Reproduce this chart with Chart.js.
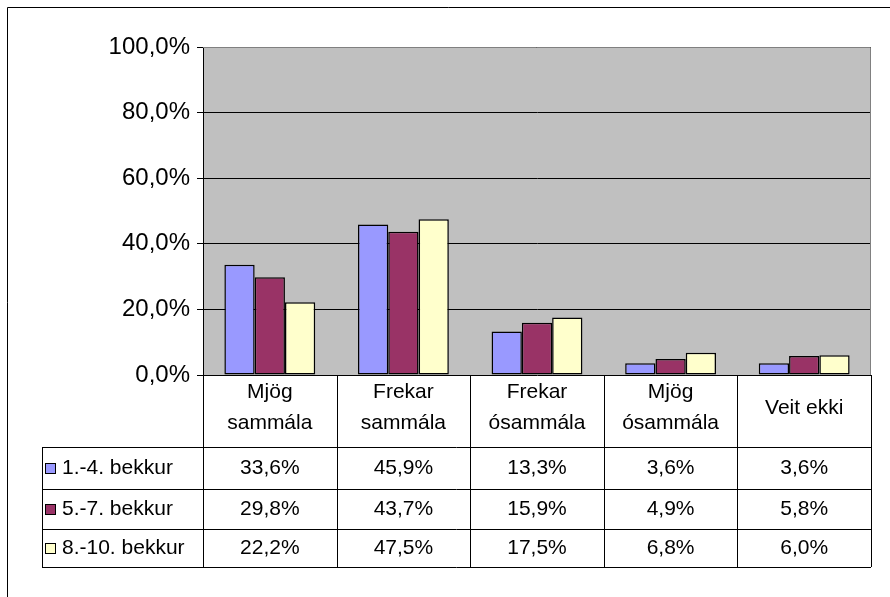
<!DOCTYPE html>
<html>
<head>
<meta charset="utf-8">
<script src="https://cdn.jsdelivr.net/npm/chart.js@4.4.0/dist/chart.umd.min.js"></script>
<style>
  body { margin: 0; background: #fff; }
  #wrap { width: 890px; height: 597px; }
</style>
</head>
<body>
<div id="wrap"><canvas id="chart" width="890" height="597"></canvas></div>
<script>
// data
const categories = [['Mjög', 'sammála'], ['Frekar', 'sammála'], ['Frekar', 'ósammála'], ['Mjög', 'ósammála'], ['Veit ekki']];
const seriesNames = ['1.-4. bekkur', '5.-7. bekkur', '8.-10. bekkur'];
const grade1to4 = [33.6, 45.9, 13.3, 3.6, 3.6];
const grade5to7 = [29.8, 43.7, 15.9, 4.9, 5.8];
const grade8to10 = [22.2, 47.5, 17.5, 6.8, 6.0];
const seriesColors = ['#9999FF', '#993366', '#FFFFCC'];

const FONT = '"Liberation Sans", Arial, sans-serif';
const fmt = v => v.toFixed(1).replace('.', ',') + '%';

// grey plot area + outer frame
const plotBg = {
  id: 'plotBg',
  beforeDraw(chart) {
    const { ctx, chartArea: a } = chart;
    ctx.save();
    ctx.fillStyle = '#C0C0C0';
    ctx.fillRect(a.left, a.top, a.right - a.left, a.bottom - a.top);
    // outer frame (only top and left visible)
    ctx.strokeStyle = '#000';
    ctx.lineWidth = 1;
    ctx.beginPath();
    ctx.moveTo(7.5, 597);
    ctx.lineTo(7.5, 7.5);
    ctx.lineTo(890, 7.5);
    ctx.stroke();
    ctx.restore();
  },
  afterDatasetsDraw(chart) {
    const { ctx, chartArea: a } = chart;
    ctx.save();
    ctx.strokeStyle = '#808080';
    ctx.lineWidth = 1;
    ctx.beginPath();
    ctx.moveTo(a.left, a.top + 0.5);
    ctx.lineTo(a.right - 0.5, a.top + 0.5);
    ctx.lineTo(a.right - 0.5, a.bottom);
    ctx.stroke();
    ctx.restore();
  }
};

// data table under the plot
const dataTable = {
  id: 'dataTable',
  afterDraw(chart) {
    const { ctx, chartArea: a } = chart;
    const n = chart.data.labels.length;
    const w = (a.right - a.left) / n;
    const tableLeft = 42;
    const rows = [a.bottom, 447, 489, 529, 567];
    ctx.save();
    ctx.strokeStyle = '#000';
    ctx.lineWidth = 1;
    ctx.beginPath();
    // header verticals
    for (let i = 0; i <= n; i++) {
      const x = Math.round(a.left + i * w) + 0.5;
      ctx.moveTo(x, a.bottom);
      ctx.lineTo(x, rows[4]);
    }
    ctx.moveTo(tableLeft + 0.5, rows[1]);
    ctx.lineTo(tableLeft + 0.5, rows[4]);
    for (let r = 1; r < rows.length; r++) {
      ctx.moveTo(tableLeft, rows[r] + 0.5);
      ctx.lineTo(a.right, rows[r] + 0.5);
    }
    ctx.stroke();

    ctx.fillStyle = '#000';
    ctx.font = '21px ' + FONT;
    ctx.textAlign = 'center';
    ctx.textBaseline = 'middle';
    chart.data.labels.forEach((lab, i) => {
      const cx = a.left + (i + 0.5) * w;
      const lines = Array.isArray(lab) ? lab : [lab];
      const mid = (rows[0] + rows[1]) / 2;
      const lh = 31;
      lines.forEach((t, k) => {
        ctx.fillText(t, cx, mid + (k - (lines.length - 1) / 2) * lh - 3);
      });
    });

    chart.data.datasets.forEach((ds, r) => {
      const cy = (rows[r + 1] + rows[r + 2]) / 2;
      // legend key
      ctx.fillStyle = ds.backgroundColor;
      ctx.fillRect(45, cy - 5, 10, 10);
      ctx.strokeStyle = '#000';
      ctx.strokeRect(45.5, cy - 4.5, 10, 10);
      ctx.fillStyle = '#000';
      ctx.textAlign = 'left';
      ctx.fillText(ds.label, 62, cy);
      ctx.textAlign = 'center';
      ds.data.forEach((v, i) => {
        ctx.fillText(fmt(v), a.left + (i + 0.5) * w, cy);
      });
    });
    ctx.restore();
  }
};

const data = {
  labels: categories,
  datasets: [grade1to4, grade5to7, grade8to10].map((vals, i) => ({
    label: seriesNames[i],
    data: vals,
    backgroundColor: seriesColors[i],
    borderColor: '#000',
    borderWidth: 1.5,
    borderSkipped: false,
    barPercentage: 1,
    categoryPercentage: 0.68
  }))
};

new Chart(document.getElementById('chart'), {
  type: 'bar',
  data,
  options: {
    responsive: false,
    animation: false,
    layout: { padding: { top: 47, right: 19, bottom: 222, left: 0 } },
    plugins: {
      legend: { display: false },
      tooltip: { enabled: false }
    },
    scales: {
      x: { display: false },
      y: {
        min: 0,
        max: 100,
        afterFit(s) { s.width = 203; },
        ticks: {
          stepSize: 20,
          color: '#000',
          padding: 7,
          font: { family: FONT, size: 24 },
          callback: v => fmt(v)
        },
        grid: { color: '#000', lineWidth: 1, tickLength: 6, drawTicks: true },
        border: { color: '#000', width: 1 }
      }
    }
  },
  plugins: [plotBg, dataTable]
});
</script>
</body>
</html>
